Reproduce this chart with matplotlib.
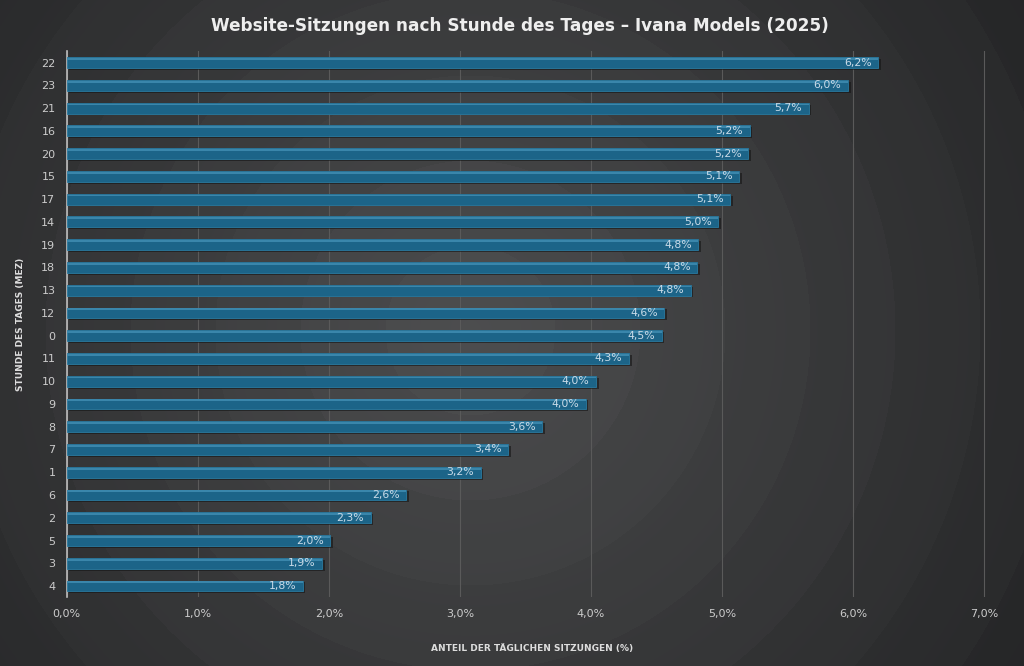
import matplotlib
matplotlib.use("Agg")
import matplotlib.pyplot as plt
import numpy as np

# Stunde des Tages (sortiert nach Anteil) und Anteil in %
hours = ["22", "23", "21", "16", "20", "15", "17", "14", "19", "18", "13", "12",
         "0", "11", "10", "9", "8", "7", "1", "6", "2", "5", "3", "4"]
share = [6.19, 5.96, 5.66, 5.21, 5.20, 5.13, 5.06, 4.97, 4.82, 4.81, 4.76, 4.56,
         4.54, 4.29, 4.04, 3.96, 3.63, 3.37, 3.16, 2.59, 2.32, 2.01, 1.95, 1.80]
xticks = [0, 1, 2, 3, 4, 5, 6, 7]

fig = plt.figure(figsize=(10.24, 6.66), dpi=100)

# radial background with soft rings
bg = fig.add_axes([0, 0, 1, 1], zorder=0)
h, w = 666, 1024
yy, xx = np.mgrid[0:h, 0:w]
r = np.hypot(xx - 470, yy - 330)
bands = np.floor(r / 85) * 85
base = 0.30 - 0.16 * np.clip(bands / 650, 0, 1) * 0.6 - 0.16 * np.clip(r / 650, 0, 1) * 0.4
img = np.dstack([base, base + 0.003, base + 0.008])
bg.imshow(np.clip(img, 0, 1), extent=[0, 1, 0, 1], aspect="auto", origin="upper")
bg.axis("off")

ax = fig.add_axes([0.065, 0.103, 0.909, 0.82], zorder=1)
ax.set_facecolor("none")

y = np.arange(len(hours))[::-1]
# shadow
ax.barh(y - 0.08, share, height=0.48, left=0.02, color="#151515", alpha=0.6, zorder=2)
ax.barh(y, share, height=0.48, color="#1c6488", edgecolor="#2a7aa0", linewidth=0.6, zorder=3)
ax.barh(y + 0.16, share, height=0.08, color="#3a86ab", zorder=4, linewidth=0)

for yi, v in zip(y, share):
    ax.text(v - 0.05, yi, f"{v:.1f}%".replace(".", ","), ha="right", va="center",
            color="#c9dbe8", fontsize=7.8, zorder=5)

ax.set_xlim(0, 7.1)
ax.set_ylim(-0.5, len(hours) - 0.5)
ax.set_xticks(xticks)
ax.set_xticklabels([f"{t:.1f}%".replace(".", ",") for t in xticks])
ax.set_yticks(y)
ax.set_yticklabels(hours)
ax.tick_params(colors="#cccccc", labelsize=8, length=0)
ax.tick_params(axis="x", pad=8)
ax.tick_params(axis="y", pad=8)
ax.grid(axis="x", color="#5a5a5a", linewidth=0.8, zorder=1)
ax.set_axisbelow(True)
for s in ["top", "right", "bottom"]:
    ax.spines[s].set_visible(False)
ax.spines["left"].set_color("#bdbdbd")
ax.spines["left"].set_linewidth(1.2)

ax.set_xlabel("ANTEIL DER TÄGLICHEN SITZUNGEN (%)", color="#dddddd", fontsize=6.5,
              fontweight="bold", labelpad=18)
ax.set_ylabel("STUNDE DES TAGES (MEZ)", color="#dddddd", fontsize=6.5,
              fontweight="bold", labelpad=12)

fig.text(0.508, 0.961, "Website-Sitzungen nach Stunde des Tages – Ivana Models (2025)",
         ha="center", va="center", color="#eeeeee", fontsize=12.2, fontweight="bold",
         family="DejaVu Sans")

fig.savefig("out.png", dpi=100)
